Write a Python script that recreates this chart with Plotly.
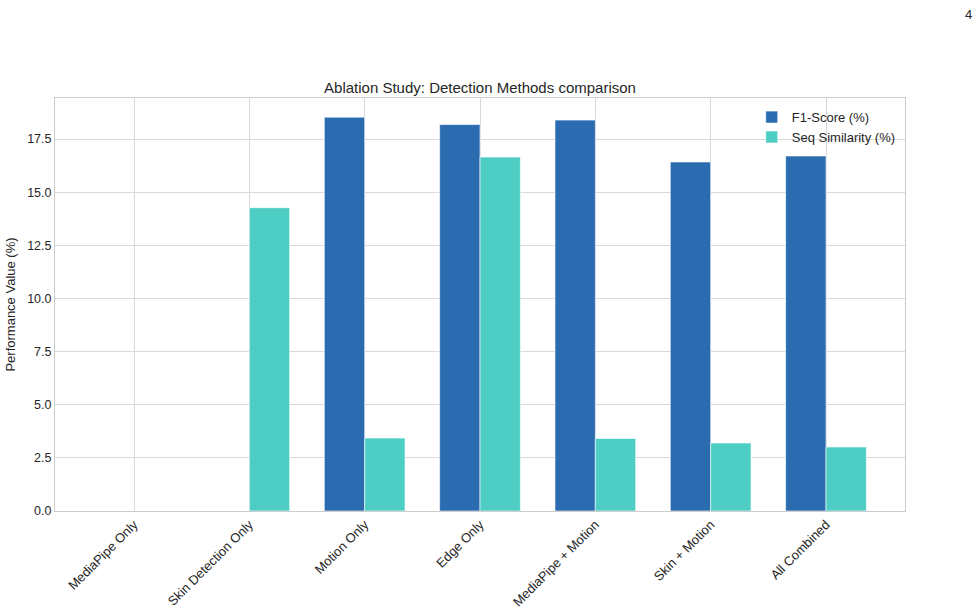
import plotly.graph_objects as go

categories = ["MediaPipe Only", "Skin Detection Only", "Motion Only", "Edge Only",
              "MediaPipe + Motion", "Skin + Motion", "All Combined"]
f1_score = [0.0, 0.0, 18.53, 18.18, 18.39, 16.42, 16.70]
seq_similarity = [0.0, 14.27, 3.43, 16.65, 3.41, 3.20, 3.01]
y_ticks = [0.0, 2.5, 5.0, 7.5, 10.0, 12.5, 15.0, 17.5]

font_family = "Liberation Sans, Arial, sans-serif"
text_color = "#262626"

fig = go.Figure()
fig.add_trace(go.Bar(x=categories, y=f1_score, name="F1-Score (%)",
                     marker=dict(color="#2B6CB0", line=dict(color="rgba(255,255,255,0.6)", width=1))))
fig.add_trace(go.Bar(x=categories, y=seq_similarity, name="Seq Similarity (%)",
                     marker=dict(color="#4ECDC4", line=dict(color="rgba(255,255,255,0.6)", width=1))))

fig.update_layout(
    width=980, height=611,
    margin=dict(l=55, r=75, t=98, b=100, autoexpand=False),
    paper_bgcolor="white", plot_bgcolor="white",
    barmode="group", bargap=0.3, bargroupgap=0.0,
    font=dict(family=font_family, size=13, color=text_color),
    title=dict(text="Ablation Study: Detection Methods comparison",
               x=0.5, xref="paper", xanchor="center",
               y=1, yref="paper", yanchor="bottom", pad=dict(b=5),
               font=dict(size=15, color=text_color)),
    showlegend=True,
    legend=dict(x=0.995, y=0.99, xanchor="right", yanchor="top",
                bgcolor="rgba(0,0,0,0)", font=dict(size=13, color=text_color),
                tracegroupgap=0),
    xaxis=dict(type="category", range=[-0.685, 6.685], tickangle=-45,
               automargin=False,
               showgrid=True, gridcolor="#d9d9d9", gridwidth=1,
               showline=True, linecolor="#cccccc", linewidth=1, mirror=True,
               ticks="", tickfont=dict(size=13, color=text_color)),
    yaxis=dict(range=[0, 19.43], tickvals=y_ticks, tickformat=".1f",
               automargin=False,
               showgrid=True, gridcolor="#d9d9d9", gridwidth=1,
               showline=True, linecolor="#cccccc", linewidth=1, mirror=True,
               zeroline=False, ticks="", tickfont=dict(size=12.5, color=text_color),
               title=dict(text="Performance Value (%)", font=dict(size=13, color=text_color),
                          standoff=8)),
)

fig.add_annotation(text="4", xref="paper", yref="paper",
                   x=(968 - 55) / (980 - 55 - 75), y=(611 - 100 - 14) / (611 - 98 - 100),
                   showarrow=False, xanchor="center", yanchor="middle",
                   font=dict(size=13, color=text_color))

fig.write_html("out.html")
